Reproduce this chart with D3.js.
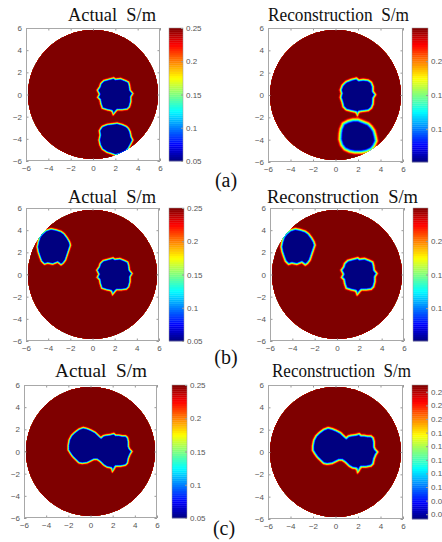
<!DOCTYPE html>
<html>
<head>
<meta charset="utf-8">
<script src="https://cdn.jsdelivr.net/npm/d3@7"></script>
<style>
  body { margin: 0; background: #fff; }
  svg { display: block; }
  .tick text { font-family: "Liberation Sans", Arial, sans-serif; font-size: 8px; fill: #555; }
  .tick line { stroke: #999; }
  .title { font-family: "Liberation Serif", "Times New Roman", serif; font-size: 19px; fill: #111; }
  .case { font-family: "Liberation Serif", "Times New Roman", serif; font-size: 20px; fill: #111; }
</style>
</head>
<body>
<svg id="chart" width="442" height="542"></svg>
<script>
// axes and conductivity levels
const axisTicks = [-6, -4, -2, 0, 2, 4, 6];
const discRadius = 5.82;
const sigmaBackground = 0.25;
const sigmaInclusion = 0.05;

// inclusion outlines (x, y in the plot units)
const blobRight = [
  [0.96, 1.29], [1.41, 1.41], [1.86, 1.53], [2.01, 1.41], [2.46, 1.47], [2.91, 1.29],
  [3.21, 1.14], [3.30, 0.84], [3.36, 0.39], [3.60, 0.09], [3.42, -0.21], [3.42, -0.66],
  [3.30, -1.11], [3.06, -1.35], [2.61, -1.41], [2.16, -1.41], [1.92, -1.71], [1.80, -1.86],
  [1.68, -1.50], [1.26, -1.41], [0.81, -1.26], [0.66, -0.81], [0.60, -0.45], [0.39, -0.27],
  [0.54, 0.03], [0.36, 0.39], [0.57, 0.69], [0.66, 0.99]
];
const blobLower = [
  [0.81, -2.85], [1.26, -2.67], [1.71, -2.61], [2.16, -2.55], [2.61, -2.67], [3.00, -2.85],
  [3.21, -3.06], [3.36, -3.36], [3.45, -3.81], [3.60, -4.11], [3.42, -4.47], [3.21, -4.86],
  [2.91, -5.16], [2.46, -5.37], [2.01, -5.50], [1.65, -5.37], [1.26, -5.25], [0.81, -4.95],
  [0.60, -4.56], [0.51, -4.11], [0.60, -3.66], [0.54, -3.27], [0.66, -3.06]
];
const blobLeft = [
  [-4.19, 4.01], [-3.74, 4.16], [-3.29, 4.07], [-2.84, 3.92], [-2.54, 3.70], [-2.25, 3.31],
  [-2.04, 2.95], [-1.95, 2.65], [-2.10, 2.20], [-2.25, 1.75], [-2.40, 1.30], [-2.63, 0.99],
  [-2.84, 0.84], [-3.14, 1.08], [-3.59, 0.90], [-4.04, 0.99], [-4.34, 0.90], [-4.64, 1.20],
  [-4.79, 1.60], [-4.94, 2.05], [-5.03, 2.50], [-4.94, 2.95], [-4.79, 3.40], [-4.55, 3.70]
];
const blobMerged = [
  [-2.05, 0.54], [-1.96, 1.05], [-1.75, 1.45], [-1.45, 1.75], [-1.05, 2.05], [-0.66, 2.20],
  [-0.30, 2.11], [0.06, 1.96], [0.45, 1.75], [0.75, 1.45], [0.96, 1.27], [1.14, 1.45],
  [1.36, 1.51], [1.81, 1.57], [2.11, 1.66], [2.26, 1.51], [2.56, 1.51], [2.86, 1.45],
  [3.16, 1.45], [3.37, 1.27], [3.46, 0.90], [3.46, 0.45], [3.55, 0.24], [3.77, 0.00],
  [3.61, -0.24], [3.46, -0.60], [3.37, -1.05], [3.16, -1.27], [2.71, -1.36], [2.26, -1.36],
  [2.11, -1.66], [1.96, -1.87], [1.87, -1.51], [1.51, -1.45], [1.20, -1.27], [0.90, -0.96],
  [0.60, -0.75], [0.30, -0.75], [0.00, -0.90], [-0.30, -1.05], [-0.75, -1.11], [-1.05, -1.05],
  [-1.36, -0.75], [-1.66, -0.45], [-1.87, -0.15], [-2.05, 0.15]
];
const reconRight = [
  [0.96, 1.23], [1.41, 1.41], [1.86, 1.53], [2.07, 1.35], [2.46, 1.41], [2.91, 1.35],
  [3.21, 1.14], [3.36, 0.75], [3.36, 0.33], [3.57, 0.03], [3.39, -0.27], [3.36, -0.81],
  [3.21, -1.17], [2.91, -1.41], [2.46, -1.47], [2.07, -1.53], [1.95, -1.86], [1.83, -1.56],
  [1.41, -1.47], [0.96, -1.35], [0.66, -1.05], [0.57, -0.66], [0.42, -0.21], [0.51, 0.15],
  [0.42, 0.45], [0.57, 0.84], [0.75, 1.05]
];
const reconLower = [
  [0.66, -2.55], [1.11, -2.31], [1.56, -2.19], [2.01, -2.19], [2.46, -2.37], [2.91, -2.55],
  [3.21, -2.85], [3.45, -3.21], [3.57, -3.66], [3.66, -4.11], [3.45, -4.56], [3.21, -4.86],
  [2.76, -5.07], [2.31, -5.16], [1.71, -5.16], [1.26, -5.07], [0.81, -4.86], [0.51, -4.47],
  [0.36, -3.96], [0.39, -3.45], [0.45, -3.06]
];

// colorbars
const cbarRangeActual = [0.05, 0.25];
const cbarRangeRecon = [0.051, 0.249];
const cbarRangeReconC = [0.053, 0.25];
const cbarTicksActual = [0.05, 0.1, 0.15, 0.2, 0.25];
const cbarTicksRecon = [0.1, 0.15, 0.2];
const cbarTicksReconC = [0.06, 0.08, 0.1, 0.12, 0.14, 0.16, 0.18, 0.2, 0.22, 0.24];

const titles = ["Actual  S/m", "Reconstruction  S/m"];
const caseLabels = ["(a)", "(b)", "(c)"];

// layout: plot box, colorbar, title placement
const panels = [
  { title: titles[0], blobs: [[blobRight, 0.28], [blobLower, 0.28]], cbRange: cbarRangeActual, cbTicks: cbarTicksActual,
    box: [26, 28, 134, 133], cb: [169, 14], t: [68, 88, 21] },
  { title: titles[1], blobs: [[reconRight, 0.34], [reconLower, 0.5]], cbRange: cbarRangeRecon, cbTicks: cbarTicksRecon,
    box: [268, 28, 135, 134], cb: [412, 16], t: [268, 141, 21] },
  { title: titles[0], blobs: [[blobLeft, 0.28], [blobRight, 0.28]], cbRange: cbarRangeActual, cbTicks: cbarTicksActual,
    box: [26, 208, 133, 133], cb: [169, 15], t: [68, 88, 203] },
  { title: titles[1], blobs: [[blobLeft, 0.34], [blobRight, 0.34]], cbRange: cbarRangeRecon, cbTicks: cbarTicksRecon,
    box: [270, 208, 134, 133], cb: [413, 15], t: [267, 151, 203] },
  { title: titles[0], blobs: [[blobMerged, 0.28]], cbRange: cbarRangeActual, cbTicks: cbarTicksActual,
    box: [24, 385, 133, 133], cb: [172, 15], t: [55, 92, 377] },
  { title: titles[1], blobs: [[blobMerged, 0.34]], cbRange: cbarRangeReconC, cbTicks: cbarTicksReconC,
    box: [268, 385, 135, 134], cb: [412, 16], t: [272, 139, 377] }
];
const casePos = [[226, 187], [226, 364], [224, 535]];

// MATLAB-like jet colormap
function jet(t) {
  const c = (v) => Math.round(255 * Math.max(0, Math.min(1, v)));
  return d3.rgb(c(1.5 - Math.abs(4 * t - 3)), c(1.5 - Math.abs(4 * t - 2)), c(1.5 - Math.abs(4 * t - 1))).formatHex();
}
const color = d3.scaleSequential(jet).domain([sigmaInclusion, sigmaBackground]);

function segDist(p, a, b) {
  const dx = b[0] - a[0], dy = b[1] - a[1];
  let u = ((p[0] - a[0]) * dx + (p[1] - a[1]) * dy) / (dx * dx + dy * dy);
  u = Math.max(0, Math.min(1, u));
  const ex = a[0] + u * dx - p[0], ey = a[1] + u * dy - p[1];
  return Math.sqrt(ex * ex + ey * ey);
}

function signedDist(p, poly) {
  let d = Infinity;
  for (let k = 0; k < poly.length; k++) {
    d = Math.min(d, segDist(p, poly[k], poly[(k + 1) % poly.length]));
  }
  return d3.polygonContains(poly, p) ? -d : d;
}

// conductivity grid from the inclusion outlines
const N = 200;
function field(blobs) {
  const vals = new Float64Array(N * N);
  const boxes = blobs.map(([pts, w]) => ({
    pts, w,
    x0: d3.min(pts, (d) => d[0]) - w, x1: d3.max(pts, (d) => d[0]) + w,
    y0: d3.min(pts, (d) => d[1]) - w, y1: d3.max(pts, (d) => d[1]) + w
  }));
  for (let j = 0; j < N; j++) {
    const py = 6 - (12 * (j + 0.5)) / N;
    for (let i = 0; i < N; i++) {
      const px = -6 + (12 * (i + 0.5)) / N;
      let t = 1;
      boxes.forEach((b) => {
        if (px < b.x0 || px > b.x1 || py < b.y0 || py > b.y1) return;
        const d = signedDist([px, py], b.pts);
        t = Math.min(t, Math.max(0, Math.min(1, 0.5 + d / b.w)));
      });
      vals[j * N + i] = sigmaInclusion + (sigmaBackground - sigmaInclusion) * t;
    }
  }
  return vals;
}

const thresholds = d3.range(49).map((i) => sigmaInclusion + (i * (sigmaBackground - sigmaInclusion)) / 48 - 1e-9);
const svg = d3.select("#chart");

panels.forEach((p, idx) => {
  const [left, top, w, h] = p.box;
  const x = d3.scaleLinear().domain([-6, 6]).range([left, left + w]);
  const y = d3.scaleLinear().domain([-6, 6]).range([top + h, top]);
  const g = svg.append("g");

  // disc clip
  const clipId = "disc" + idx;
  g.append("clipPath").attr("id", clipId)
    .append("ellipse")
    .attr("cx", x(0)).attr("cy", y(0))
    .attr("rx", x(discRadius) - x(0)).attr("ry", y(0) - y(discRadius));

  const proj = d3.geoTransform({
    point(gx, gy) { this.stream.point(x(-6 + (12 * gx) / N), y(6 - (12 * gy) / N)); }
  });
  const path = d3.geoPath(proj);
  const contours = d3.contours().size([N, N]).thresholds(thresholds)(field(p.blobs));

  g.append("g").attr("clip-path", `url(#${clipId})`)
    .selectAll("path")
    .data(contours)
    .join("path")
    .attr("d", path)
    .attr("fill", (d) => color(d.value + 1e-9))
    .attr("stroke", (d) => color(d.value + 1e-9))
    .attr("stroke-width", 0.3);

  // axes, MATLAB style box with inward ticks
  g.append("g").attr("transform", `translate(0,${top + h})`)
    .call(d3.axisBottom(x).tickValues(axisTicks).tickSizeInner(-2.5).tickSizeOuter(0).tickPadding(4))
    .call((a) => a.select(".domain").remove());
  g.append("g").attr("transform", `translate(${left},0)`)
    .call(d3.axisLeft(y).tickValues(axisTicks).tickSizeInner(-2.5).tickSizeOuter(0).tickPadding(4))
    .call((a) => a.select(".domain").remove());
  g.append("g").attr("transform", `translate(0,${top})`)
    .call(d3.axisTop(x).tickValues(axisTicks).tickSizeInner(-2.5).tickSizeOuter(0).tickFormat(""))
    .call((a) => a.select(".domain").remove());
  g.append("g").attr("transform", `translate(${left + w},0)`)
    .call(d3.axisRight(y).tickValues(axisTicks).tickSizeInner(-2.5).tickSizeOuter(0).tickFormat(""))
    .call((a) => a.select(".domain").remove());
  g.append("rect")
    .attr("x", left + 0.5).attr("y", top + 0.5)
    .attr("width", w - 1).attr("height", h - 1)
    .attr("fill", "none").attr("stroke", "#a8a8a8");

  // colorbar
  const [cbx, cbw] = p.cb;
  const cb = d3.scaleLinear().domain(p.cbRange).range([top + h, top]);
  const steps = 64;
  const span = p.cbRange[1] - p.cbRange[0];
  g.append("g").selectAll("rect")
    .data(d3.range(steps))
    .join("rect")
    .attr("x", cbx)
    .attr("y", (k) => cb(p.cbRange[0] + ((k + 1) * span) / steps))
    .attr("width", cbw)
    .attr("height", (k) => cb(p.cbRange[0] + (k * span) / steps) - cb(p.cbRange[0] + ((k + 1) * span) / steps) + 0.3)
    .attr("fill", (k) => jet((k + 0.5) / steps));
  g.append("g").attr("transform", `translate(${cbx + cbw},0)`)
    .call(d3.axisRight(cb).tickValues(p.cbTicks).tickSizeInner(-2).tickSizeOuter(0).tickPadding(3)
      .tickFormat((v) => String(+v.toFixed(2))))
    .call((a) => a.select(".domain").remove())
    .call((a) => a.selectAll(".tick line").attr("stroke", "#666"));
  g.append("rect")
    .attr("x", cbx).attr("y", top)
    .attr("width", cbw).attr("height", h)
    .attr("fill", "none").attr("stroke", "#999").attr("stroke-width", 0.5);

  // title
  g.append("text").attr("class", "title")
    .attr("x", p.t[0]).attr("y", p.t[2])
    .attr("textLength", p.t[1]).attr("lengthAdjust", "spacingAndGlyphs")
    .style("white-space", "pre")
    .text(p.title);
});

svg.selectAll("text.case")
  .data(caseLabels)
  .join("text")
  .attr("class", "case")
  .attr("x", (d, i) => casePos[i][0])
  .attr("y", (d, i) => casePos[i][1])
  .attr("text-anchor", "middle")
  .text((d) => d);
</script>
</body>
</html>
